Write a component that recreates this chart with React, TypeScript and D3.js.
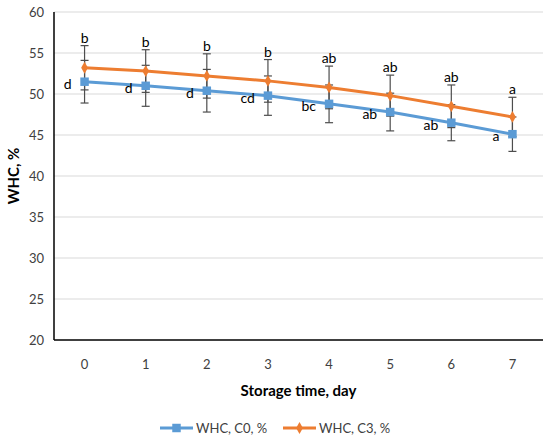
import React, { useEffect, useRef } from "react";
import * as d3 from "d3";

const days = ["0", "1", "2", "3", "4", "5", "6", "7"];
const c0Values = [51.5, 51.0, 50.4, 49.8, 48.8, 47.8, 46.5, 45.1];
const c0Errors = [2.6, 2.5, 2.6, 2.4, 2.3, 2.3, 2.2, 2.1];
const c0Letters = ["d", "d", "d", "cd", "bc", "ab", "ab", "a"];
const c3Values = [53.2, 52.8, 52.2, 51.6, 50.8, 49.8, 48.5, 47.2];
const c3Errors = [2.7, 2.6, 2.7, 2.6, 2.6, 2.5, 2.6, 2.4];
const c3Letters = ["b", "b", "b", "b", "ab", "ab", "ab", "a"];
const yTicks = [20, 25, 30, 35, 40, 45, 50, 55, 60];

const BLUE = "#5b9bd5";
const ORANGE = "#ed7d31";
const FONT = "Lato, 'Open Sans', sans-serif";

const WhcChart: React.FC = () => {
  const svgRef = useRef<SVGSVGElement>(null);

  useEffect(() => {
    if (!svgRef.current) return;
    const width = 550;
    const height = 440;
    const margin = { top: 12, right: 7, bottom: 100, left: 54 };

    const svg = d3.select(svgRef.current);
    svg.selectAll("*").remove();
    svg.attr("width", width).attr("height", height);

    const x = d3
      .scaleBand<string>()
      .domain(days)
      .range([margin.left, width - margin.right]);
    const y = d3
      .scaleLinear()
      .domain([20, 60])
      .range([height - margin.bottom, margin.top]);
    const cx = (d: string) => (x(d) ?? 0) + x.bandwidth() / 2;

    // grid
    svg
      .append("g")
      .selectAll("line")
      .data(yTicks.filter((t) => t > 20))
      .enter()
      .append("line")
      .attr("x1", margin.left)
      .attr("x2", width - margin.right)
      .attr("y1", (d) => y(d))
      .attr("y2", (d) => y(d))
      .attr("stroke", "#d9d9d9")
      .attr("stroke-width", 1);

    // axes
    svg
      .append("line")
      .attr("x1", margin.left)
      .attr("x2", margin.left)
      .attr("y1", y(60))
      .attr("y2", y(20))
      .attr("stroke", "#000")
      .attr("stroke-width", 1.5);
    svg
      .append("line")
      .attr("x1", margin.left)
      .attr("x2", width - margin.right)
      .attr("y1", y(20))
      .attr("y2", y(20))
      .attr("stroke", "#000")
      .attr("stroke-width", 1.5);

    svg
      .append("g")
      .selectAll("text")
      .data(yTicks)
      .enter()
      .append("text")
      .attr("x", margin.left - 10)
      .attr("y", (d) => y(d))
      .attr("dy", "0.35em")
      .attr("text-anchor", "end")
      .style("font-family", FONT)
      .style("font-size", "13px")
      .style("fill", "#404040")
      .text((d) => d);

    svg
      .append("g")
      .selectAll("text")
      .data(days)
      .enter()
      .append("text")
      .attr("x", (d) => cx(d))
      .attr("y", y(20) + 24)
      .attr("dy", "0.35em")
      .attr("text-anchor", "middle")
      .style("font-family", FONT)
      .style("font-size", "13px")
      .style("fill", "#404040")
      .text((d) => d);

    svg
      .append("text")
      .attr("x", (margin.left + width - margin.right) / 2)
      .attr("y", 391)
      .attr("dy", "0.35em")
      .attr("text-anchor", "middle")
      .style("font-family", FONT)
      .style("font-size", "15px")
      .style("font-weight", "bold")
      .style("fill", "#000")
      .text("Storage time, day");

    svg
      .append("text")
      .attr("transform", `translate(14, ${(y(20) + y(60)) / 2}) rotate(-90)`)
      .attr("dy", "0.35em")
      .attr("text-anchor", "middle")
      .style("font-family", FONT)
      .style("font-size", "15px")
      .style("font-weight", "bold")
      .style("fill", "#000")
      .text("WHC, %");

    const series = [
      { values: c0Values, errors: c0Errors, color: BLUE, marker: "square" },
      { values: c3Values, errors: c3Errors, color: ORANGE, marker: "diamond" },
    ];

    // error bars
    series.forEach((s) => {
      const g = svg.append("g");
      days.forEach((d, i) => {
        const hi = y(s.values[i] + s.errors[i]);
        const lo = y(s.values[i] - s.errors[i]);
        const px = cx(d);
        g.append("line")
          .attr("x1", px).attr("x2", px)
          .attr("y1", hi).attr("y2", lo)
          .attr("stroke", "#4d4d4d").attr("stroke-width", 1.2);
        [hi, lo].forEach((v) =>
          g.append("line")
            .attr("x1", px - 4).attr("x2", px + 4)
            .attr("y1", v).attr("y2", v)
            .attr("stroke", "#4d4d4d").attr("stroke-width", 1.2),
        );
      });
    });

    const line = d3
      .line<number>()
      .x((_d, i) => cx(days[i]))
      .y((d) => y(d));

    series.forEach((s) => {
      svg
        .append("path")
        .datum(s.values)
        .attr("d", line)
        .attr("fill", "none")
        .attr("stroke", s.color)
        .attr("stroke-width", 3);

      const sym = d3
        .symbol()
        .type(s.marker === "square" ? d3.symbolSquare : d3.symbolDiamond)
        .size(s.marker === "square" ? 72 : 40);

      svg
        .append("g")
        .selectAll("path")
        .data(s.values)
        .enter()
        .append("path")
        .attr("d", sym)
        .attr("transform", (d, i) => `translate(${cx(days[i])},${y(d)})`)
        .attr("fill", s.color);
    });

    // significance letters
    svg
      .append("g")
      .selectAll("text")
      .data(c3Letters)
      .enter()
      .append("text")
      .attr("x", (_d, i) => cx(days[i]))
      .attr("y", (_d, i) => y(c3Values[i] + c3Errors[i]) - 3)
      .attr("text-anchor", "middle")
      .style("font-family", FONT)
      .style("font-size", "14px")
      .style("fill", "#000")
      .text((d) => d);

    svg
      .append("g")
      .selectAll("text")
      .data(c0Letters)
      .enter()
      .append("text")
      .attr("x", (_d, i) => cx(days[i]) - 13)
      .attr("y", (_d, i) => y(c0Values[i]) + 2)
      .attr("dy", "0.35em")
      .attr("text-anchor", "end")
      .style("font-family", FONT)
      .style("font-size", "14px")
      .style("fill", "#000")
      .text((d) => d);

    // legend
    const legendItems = [
      { label: "WHC, C0, %", color: BLUE, marker: d3.symbolSquare, size: 72, x: 160 },
      { label: "WHC, C3, %", color: ORANGE, marker: d3.symbolDiamond, size: 40, x: 283 },
    ];
    const ly = 428;
    legendItems.forEach((item) => {
      const g = svg.append("g").attr("transform", `translate(${item.x},${ly})`);
      g.append("line")
        .attr("x1", 0).attr("x2", 33)
        .attr("y1", 0).attr("y2", 0)
        .attr("stroke", item.color).attr("stroke-width", 3);
      g.append("path")
        .attr("d", d3.symbol().type(item.marker).size(item.size)())
        .attr("transform", "translate(16.5,0)")
        .attr("fill", item.color);
      g.append("text")
        .attr("x", 36)
        .attr("y", 0)
        .attr("dy", "0.35em")
        .style("font-family", FONT)
        .style("font-size", "13px")
        .style("fill", "#404040")
        .text(item.label);
    });
  }, []);

  return (
    <svg
      ref={svgRef}
      style={{ position: "absolute", left: 0, top: 0, background: "#fff" }}
    />
  );
};

export default function App() {
  return <WhcChart />;
}
